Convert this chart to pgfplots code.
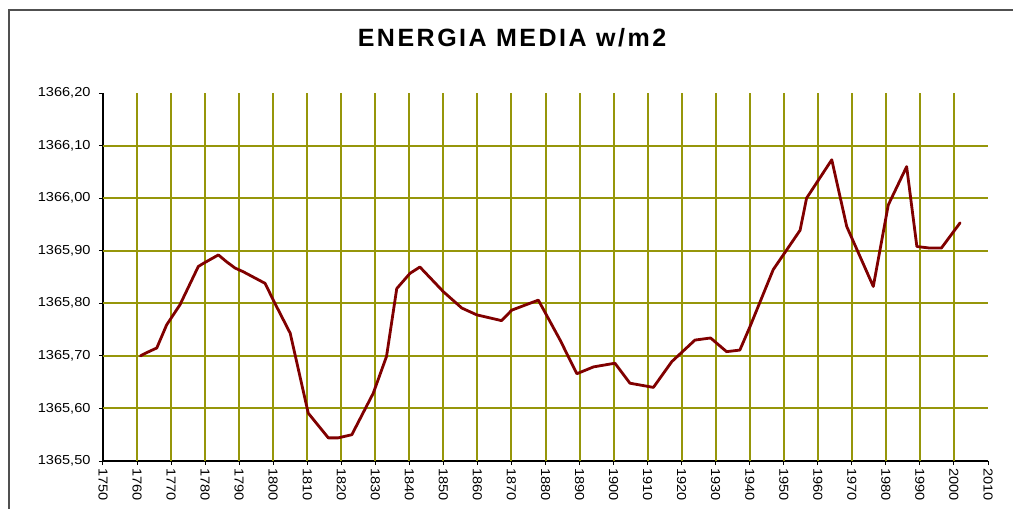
\documentclass[border=0pt]{standalone}
\usepackage{pgfplots}
\pgfplotsset{compat=1.18}
\usepackage{fontspec}
\setmainfont{Liberation Sans}
\definecolor{gridolive}{RGB}{150,150,10}
\definecolor{curvered}{RGB}{128,0,0}
\definecolor{framegray}{RGB}{80,80,80}
\begin{document}
\begin{tikzpicture}[x=1pt,y=1pt]
\path[use as bounding box] (0,0) rectangle (1013,509);
\draw[framegray, line width=2pt] (9,-20) -- (9,499) -- (1030,499);
\node[font=\fontsize{25}{25}\selectfont\bfseries\addfontfeature{LetterSpace=10}] at (512,471) {ENERGIA MEDIA w/m2};
\begin{axis}[
  scale only axis,
  width=885pt, height=368pt,
  at={(103pt,48pt)}, anchor=south west,
  xmin=1750, xmax=2010, ymin=1365.5, ymax=1366.2,
  axis lines*=left,
  axis line style={black, line width=1.2pt, -},
  xtick={1750,1760,...,2010},
  ytick={1365.5,1365.6,...,1366.2},
  tick align=outside,
  major tick length=4pt,
  tick style={black, line width=1pt},
  /pgf/number format/assume math mode=true,
  tick label style={font=\fontsize{13}{13}\selectfont\addfontfeature{FakeStretch=1.12}},
  xticklabel style={rotate=-90, anchor=west, yshift=0pt},
  yticklabel style={xshift=-5pt},
  x tick label style={/pgf/number format/1000 sep={}},
  y tick label style={/pgf/number format/.cd, fixed, fixed zerofill, precision=2, use comma, 1000 sep={}},
  extra x ticks={1760,1770,...,2000},
  extra x tick labels={},
  extra y ticks={1365.6,1365.7,1365.8,1365.9,1366.0,1366.1},
  extra y tick labels={},
  extra tick style={grid=major, major tick length=0pt, major grid style={gridolive, line width=2pt}},
  clip=false,
]
\addplot[curvered, line width=2.8pt, line join=round, line cap=round] coordinates {
(1761,1365.700) (1762.8,1365.706) (1765.8,1365.715) (1768.7,1365.759)
(1772.6,1365.797) (1778,1365.870) (1779.5,1365.876) (1783.9,1365.892)
(1786.3,1365.879) (1788.8,1365.867) (1791.2,1365.860) (1797.6,1365.838)
(1800.5,1365.800) (1805,1365.743) (1810.3,1365.591) (1816.2,1365.544)
(1819.1,1365.544) (1823.1,1365.550) (1829.4,1365.629) (1833.3,1365.699)
(1836.3,1365.828) (1840.2,1365.857) (1843.1,1365.869) (1850,1365.822)
(1855.4,1365.791) (1859.8,1365.778) (1867.1,1365.767) (1870.1,1365.787)
(1877.9,1365.806) (1884.3,1365.730) (1889.2,1365.666) (1894.1,1365.679)
(1900.4,1365.686) (1904.8,1365.648) (1911.7,1365.640) (1917.1,1365.689)
(1923.9,1365.730) (1928.5,1365.734) (1933.2,1365.708) (1937.1,1365.711)
(1940.1,1365.756) (1946.9,1365.864) (1954.8,1365.939) (1956.7,1366.000)
(1964.1,1366.073) (1968.5,1365.946) (1976.3,1365.832) (1980.7,1365.987)
(1986.1,1366.060) (1989.1,1365.908) (1992.9,1365.905) (1996.3,1365.905)
(2001.8,1365.953)
};
\end{axis}
\end{tikzpicture}
\end{document}
